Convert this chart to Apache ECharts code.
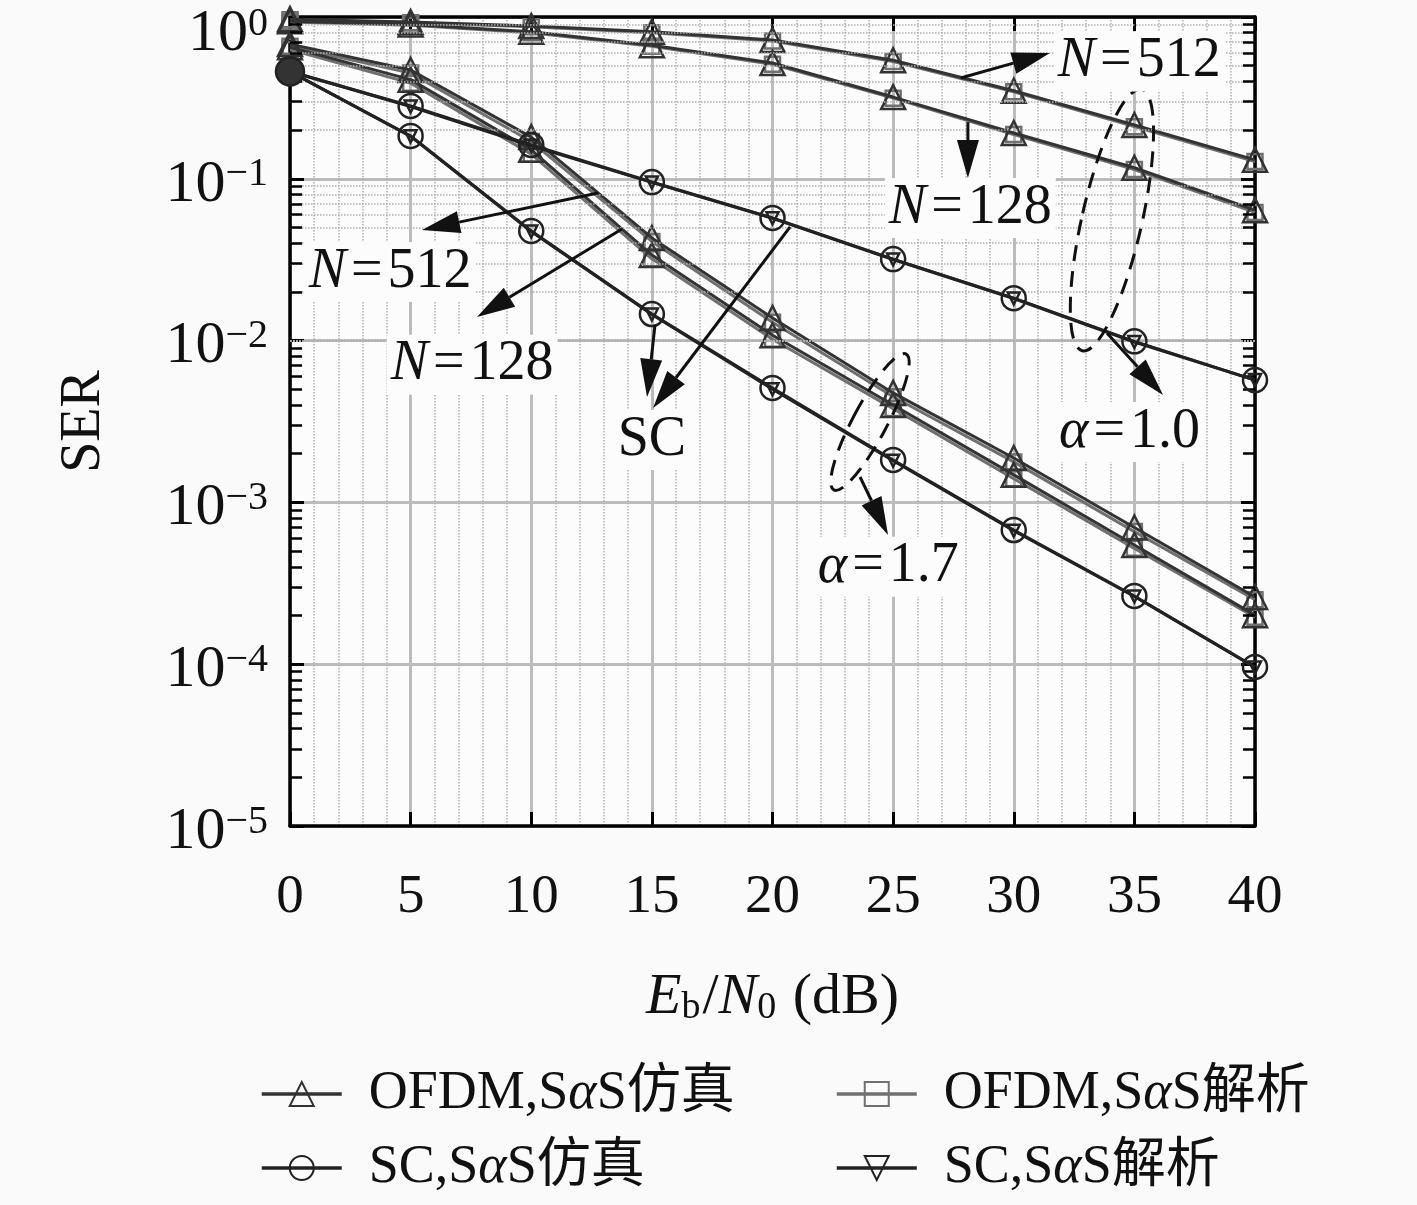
<!DOCTYPE html>
<html>
<head>
<meta charset="utf-8">
<script src="https://cdn.jsdelivr.net/npm/echarts@6/dist/echarts.min.js"></script>
<style>
html, body { margin: 0; padding: 0; background: #fafafa; }
#chart { width: 1417px; height: 1205px; }
</style>
</head>
<body>
<div id="chart"></div>
<script>
// Eb/N0 (dB)
var snr = [0, 5, 10, 15, 20, 25, 30, 35, 40];

// OFDM, simulation (triangles)
var ofdmSimA10N512 = [0.97, 0.93, 0.88, 0.81, 0.72, 0.54, 0.35, 0.215, 0.131];
var ofdmSimA10N128 = [0.94, 0.90, 0.81, 0.67, 0.52, 0.32, 0.192, 0.117, 0.064];
var ofdmSimA17N512 = [0.68, 0.47, 0.181, 0.0431, 0.0138, 0.00475, 0.00188, 0.00070, 0.00026];
var ofdmSimA17N128 = [0.65, 0.41, 0.151, 0.0338, 0.0108, 0.0040, 0.00148, 0.000546, 0.000201];

// OFDM, analysis (squares)
var ofdmAnaA10N512 = [0.96, 0.92, 0.87, 0.80, 0.71, 0.53, 0.345, 0.21, 0.128];
var ofdmAnaA10N128 = [0.93, 0.89, 0.80, 0.66, 0.51, 0.315, 0.188, 0.114, 0.062];
var ofdmAnaA17N512 = [0.66, 0.45, 0.170, 0.041, 0.0130, 0.0045, 0.00178, 0.00066, 0.00025];
var ofdmAnaA17N128 = [0.63, 0.39, 0.142, 0.032, 0.0102, 0.0038, 0.00140, 0.00052, 0.000195];

// SC, simulation (circles) and analysis (down triangles)
var scSimA10 = [0.46, 0.282, 0.162, 0.0955, 0.0573, 0.0319, 0.0183, 0.0099, 0.0057];
var scSimA17 = [0.46, 0.184, 0.0476, 0.0146, 0.0051, 0.00183, 0.000675, 0.000264, 0.0000962];
var scAnaA10 = [0.46, 0.280, 0.160, 0.0950, 0.0570, 0.0317, 0.0182, 0.0098, 0.0057];
var scAnaA17 = [0.46, 0.183, 0.0472, 0.0145, 0.0050, 0.00181, 0.000668, 0.000262, 0.0000955];

var decades = [-5, -4, -3, -2, -1];
var minorMult = [2, 3, 4, 5, 6, 7, 8, 9];

var NAME_OS = 'OFDM,SαS仿真';
var NAME_OA = 'OFDM,SαS解析';
var NAME_SS = 'SC,SαS仿真';
var NAME_SA = 'SC,SαS解析';

var SERIF = "'Liberation Serif', 'Noto Sans CJK SC', serif";

function pts(arr) {
    return arr.map(function (v, i) { return [snr[i], v]; });
}

function mk(name, data, sym, color, size, rotate, z) {
    return {
        name: name, type: 'line', data: pts(data),
        symbol: sym, symbolSize: size, symbolRotate: rotate || 0,
        lineStyle: { color: color, width: 3 },
        itemStyle: { color: 'rgba(0,0,0,0)', borderColor: color, borderWidth: 2.5 },
        emphasis: { disabled: true },
        z: z, clip: false, animation: false
    };
}

// minor grid (dotted) and minor ticks on the log axis
var minorLines = [];
decades.forEach(function (d) {
    minorMult.forEach(function (m) {
        var v = m * Math.pow(10, d);
        minorLines.push({ yAxis: v });
        minorLines.push([{ coord: [0, v], lineStyle: { type: 'solid', color: '#000', width: 2.5 } }, { coord: [0.5, v] }]);
        minorLines.push([{ coord: [39.5, v], lineStyle: { type: 'solid', color: '#000', width: 2.5 } }, { coord: [40, v] }]);
    });
});

var series = [
    mk(NAME_OA, ofdmAnaA10N512, 'rect', '#707070', 15, 0, 3),
    mk(NAME_OA, ofdmAnaA10N128, 'rect', '#707070', 15, 0, 3),
    mk(NAME_OA, ofdmAnaA17N512, 'rect', '#707070', 15, 0, 3),
    mk(NAME_OA, ofdmAnaA17N128, 'rect', '#707070', 15, 0, 3),
    mk(NAME_OS, ofdmSimA10N512, 'triangle', '#333', 24, 0, 4),
    mk(NAME_OS, ofdmSimA10N128, 'triangle', '#333', 24, 0, 4),
    mk(NAME_OS, ofdmSimA17N512, 'triangle', '#333', 24, 0, 4),
    mk(NAME_OS, ofdmSimA17N128, 'triangle', '#333', 24, 0, 4),
    mk(NAME_SA, scAnaA10, 'triangle', '#222', 12, 180, 5),
    mk(NAME_SA, scAnaA17, 'triangle', '#222', 12, 180, 5),
    mk(NAME_SS, scSimA10, 'circle', '#222', 24, 0, 6),
    mk(NAME_SS, scSimA17, 'circle', '#222', 24, 0, 6)
];
// the overlapping start point of the SC curves looks solid in the figure
series[11].data[0] = { value: series[11].data[0], symbolSize: 28, itemStyle: { color: '#333' } };

series[0].markLine = {
    silent: true, symbol: 'none', animation: false,
    label: { show: false },
    lineStyle: { type: 'dotted', color: '#b0b0b0', width: 1.5 },
    data: minorLines
};

var legendRich = {
    r: { fontSize: 54, fontFamily: SERIF, color: '#111' },
    p: { fontSize: 54, fontFamily: SERIF, color: '#111', padding: [0, 0, 0, 22] },
    i: { fontSize: 54, fontFamily: SERIF, fontStyle: 'italic', color: '#111' }
};
function legendFmt(name) {
    var k = name.indexOf('α');
    return '{p|' + name.slice(0, k) + '}{i|α}{r|' + name.slice(k + 1) + '}';
}
function legendOf(data, left) {
    return {
        data: data, orient: 'vertical', left: left, top: 1062,
        itemWidth: 80, itemHeight: 30, itemGap: 20,
        formatter: legendFmt,
        lineStyle: { width: 3.5 },
        textStyle: { rich: legendRich },
        selectedMode: false
    };
}

var axisLineStyle = { color: '#000', width: 3.5 };

var option = {
    backgroundColor: '#fafafa',
    animation: false,
    grid: {
        left: 290, right: 162, top: 17, bottom: 379,
        containLabel: false, outerBoundsMode: 'none',
        show: true, backgroundColor: '#fcfcfc', borderWidth: 0
    },
    legend: [
        legendOf([NAME_OS, NAME_SS], 255),
        legendOf([NAME_OA, NAME_SA], 830)
    ],
    xAxis: [{
        type: 'value', min: 0, max: 40, interval: 5, position: 'bottom',
        axisLine: { show: true, onZero: false, lineStyle: axisLineStyle },
        axisTick: { show: true, inside: true, length: 14, lineStyle: { color: '#000', width: 3 } },
        axisLabel: { margin: 44, fontSize: 55, fontFamily: SERIF, color: '#111' },
        splitLine: { show: true, lineStyle: { color: '#bcbcbc', width: 3 } },
        minorTick: { show: false, splitNumber: 5 },
        minorSplitLine: { show: true, lineStyle: { color: '#b0b0b0', type: 'dotted', width: 1.5 } },
        name: '{i|E}{sb|b}{r|/}{i|N}{sb|0}{r| (dB)}',
        nameLocation: 'middle', nameGap: 143,
        nameTextStyle: {
            rich: {
                i: { fontSize: 58, fontFamily: SERIF, fontStyle: 'italic', color: '#111' },
                r: { fontSize: 58, fontFamily: SERIF, color: '#111' },
                sb: { fontSize: 38, fontFamily: SERIF, color: '#111', verticalAlign: 'bottom', padding: [0, 2, 0, 0] }
            }
        }
    }, {
        type: 'value', min: 0, max: 40, interval: 5, position: 'top',
        axisLine: { show: true, onZero: false, lineStyle: axisLineStyle },
        axisTick: { show: true, inside: true, length: 14, lineStyle: { color: '#000', width: 3 } },
        axisLabel: { show: false },
        splitLine: { show: false }
    }],
    yAxis: [{
        type: 'log', logBase: 10, min: 1e-5, max: 1, position: 'left',
        axisLine: { show: true, onZero: false, lineStyle: axisLineStyle },
        axisTick: { show: true, inside: true, length: 14, lineStyle: { color: '#000', width: 3 } },
        axisLabel: {
            margin: 22, color: '#111',
            formatter: function (v) {
                var e = Math.round(Math.log10(v));
                var k = e === 0 ? '0' : '';
                return '{b' + k + '|10}{s' + k + '|' + (e < 0 ? '\u2212' + (-e) : e) + '}';
            },
            rich: {
                b: { fontSize: 60, fontFamily: SERIF, color: '#111', padding: [12, 0, 0, 0] },
                s: { fontSize: 40, fontFamily: SERIF, color: '#111', verticalAlign: 'top', padding: [12, 0, 0, 0] },
                b0: { fontSize: 60, fontFamily: SERIF, color: '#111', padding: [34, 0, 0, 0] },
                s0: { fontSize: 40, fontFamily: SERIF, color: '#111', verticalAlign: 'top', padding: [34, 0, 0, 0] }
            }
        },
        splitLine: { show: true, lineStyle: { color: '#bcbcbc', width: 3 } },
        name: 'SER', nameLocation: 'middle', nameGap: 178,
        nameTextStyle: { fontSize: 56, fontFamily: SERIF, color: '#111' }
    }, {
        type: 'log', logBase: 10, min: 1e-5, max: 1, position: 'right',
        axisLine: { show: true, onZero: false, lineStyle: axisLineStyle },
        axisTick: { show: true, inside: true, length: 14, lineStyle: { color: '#000', width: 3 } },
        axisLabel: { show: false },
        splitLine: { show: false }
    }],
    series: series
};

var chart = echarts.init(document.getElementById('chart'));
chart.setOption(option);

// annotations, anchored in data coordinates
var labelRich = {
    i: { fontSize: 56, fontFamily: SERIF, fontStyle: 'italic', fill: '#111' },
    r: { fontSize: 56, fontFamily: SERIF, fill: '#111' },
    e: { fontSize: 56, fontFamily: SERIF, fill: '#111', padding: [0, 5, 0, 5] }
};
var notes = [
    { at: [35.2, 0.53], text: '{i|N}{e|=}{r|512}' },
    { at: [28.2, 0.066], text: '{i|N}{e|=}{r|128}' },
    { at: [4.15, 0.0265], text: '{i|N}{e|=}{r|512}' },
    { at: [7.55, 0.0071], text: '{i|N}{e|=}{r|128}' },
    { at: [15.0, 0.00243], text: '{r|SC}' },
    { at: [34.8, 0.00272], text: '{i|α}{e|=}{r|1.0}' },
    { at: [24.8, 0.0004], text: '{i|α}{e|=}{r|1.7}' }
];
var arrows = [
    [[27.8, 0.42], [31.5, 0.60]],
    [[28.1, 0.224], [28.1, 0.101]],
    [[12.77, 0.0817], [5.47, 0.0483]],
    [[13.76, 0.049], [7.75, 0.014]],
    [[15.13, 0.0125], [14.8, 0.00448]],
    [[20.73, 0.0504], [15.05, 0.00383]],
    [[33.87, 0.0111], [36.19, 0.00461]],
    [[23.63, 0.001435], [24.79, 0.000629]]
];
var loops = [
    { at: [34.07, 0.0556], rx: 30, ry: 134, rot: -0.223 },
    { at: [24.04, 0.00314], rx: 17, ry: 77, rot: -0.49 }
];

function px(p) {
    return chart.convertToPixel({ xAxisIndex: 0, yAxisIndex: 0 }, p);
}

var graphic = [];
arrows.forEach(function (a) {
    var s = px(a[0]), t = px(a[1]);
    var dx = t[0] - s[0], dy = t[1] - s[1];
    var len = Math.sqrt(dx * dx + dy * dy);
    var ux = dx / len, uy = dy / len;
    var L = 38, W = 11;
    var bx = t[0] - ux * L, by = t[1] - uy * L;
    graphic.push({
        type: 'line', z: 50, silent: true,
        shape: { x1: s[0], y1: s[1], x2: bx, y2: by },
        style: { stroke: '#111', lineWidth: 3 }
    });
    graphic.push({
        type: 'polygon', z: 50, silent: true,
        shape: { points: [[t[0], t[1]], [bx - uy * W, by + ux * W], [bx + uy * W, by - ux * W]] },
        style: { fill: '#111' }
    });
});
loops.forEach(function (e) {
    var c = px(e.at);
    graphic.push({
        type: 'ellipse', z: 50, silent: true,
        x: c[0], y: c[1], rotation: e.rot,
        shape: { cx: 0, cy: 0, rx: e.rx, ry: e.ry },
        style: { fill: null, stroke: '#111', lineWidth: 3, lineDash: [16, 10] }
    });
});
notes.forEach(function (n) {
    var c = px(n.at);
    graphic.push({
        type: 'text', z: 60, silent: true,
        x: c[0], y: c[1],
        style: {
            text: n.text, rich: labelRich,
            align: 'center', verticalAlign: 'middle',
            backgroundColor: '#fcfcfc', padding: [2, 4, 2, 4]
        }
    });
});
chart.setOption({ graphic: graphic });
</script>
</body>
</html>
